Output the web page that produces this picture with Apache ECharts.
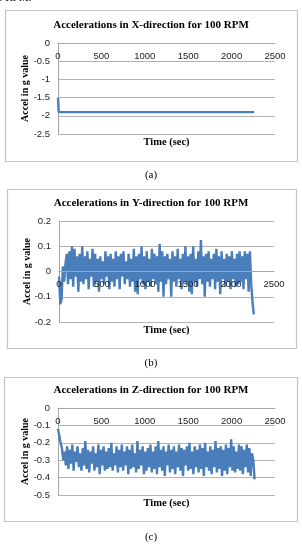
<!DOCTYPE html>
<html>
<head>
<meta charset="utf-8">
<script src="https://cdn.jsdelivr.net/npm/echarts@6/dist/echarts.min.js"></script>
<style>
  html, body { margin: 0; padding: 0; background: #fff; }
  #chartContainer { width: 302px; height: 545px; }
</style>
</head>
<body>
<div id="chartContainer"></div>
<script>
// time ticks shared by the three plots
const timeTicks = [0, 500, 1000, 1500, 2000, 2500];

// X-direction: short spike at start, then flat
const xTimes = [0, 8, 2260];
const xValues = [-1.5, -1.9, -1.9];

// Y and Z were logged every 15 sec
const SAMPLE_STEP = 15;
const yValues = [
  -0.02, -0.13, -0.11, 0.02, -0.04, 0.03, 0.07, -0.05, 0.08, -0.03,
  0.10, -0.06, 0.09, -0.02, 0.06, -0.08, 0.07, -0.04, 0.10, -0.05,
  0.06, -0.03, 0.08, -0.07, 0.05, -0.02, 0.09, -0.06, 0.07, -0.04,
  0.05, -0.08, 0.06, -0.03, 0.04, -0.05, 0.08, -0.02, 0.06, -0.07,
  0.07, -0.04, 0.05, -0.06, 0.08, -0.03, 0.06, -0.07, 0.07, -0.02,
  0.08, -0.05, 0.04, -0.03, 0.07, -0.06, 0.05, -0.04, 0.09, -0.08,
  0.06, -0.09, 0.07, -0.03, 0.10, -0.05, 0.06, -0.07, 0.08, -0.04,
  0.05, -0.06, 0.09, -0.03, 0.07, -0.05, 0.06, -0.08, 0.11, -0.04,
  0.08, -0.10, 0.06, -0.05, 0.07, -0.03, 0.05, -0.10, 0.08, -0.04,
  0.06, -0.06, 0.09, -0.03, 0.05, -0.07, 0.07, -0.04, 0.10, -0.05,
  0.06, -0.08, 0.07, -0.09, 0.10, -0.04, 0.05, -0.06, 0.08, -0.03,
  0.125, -0.05, 0.06, -0.10, 0.07, -0.04, 0.08, -0.06, 0.05, -0.03,
  0.07, -0.07, 0.09, -0.04, 0.06, -0.09, 0.08, -0.03, 0.05, -0.06,
  0.07, -0.04, 0.06, -0.07, 0.08, -0.03, 0.05, -0.06, 0.07, -0.05,
  0.08, -0.04, 0.06, -0.07, 0.08, -0.03, 0.07, -0.08, 0.08, -0.05,
  -0.12, -0.17
];
const zValues = [
  -0.12, -0.16, -0.20, -0.23, -0.30, -0.25, -0.33, -0.22, -0.35, -0.24,
  -0.32, -0.21, -0.36, -0.25, -0.31, -0.22, -0.34, -0.26, -0.36, -0.23,
  -0.33, -0.19, -0.35, -0.24, -0.37, -0.25, -0.32, -0.22, -0.36, -0.26,
  -0.34, -0.21, -0.38, -0.24, -0.33, -0.22, -0.36, -0.25, -0.35, -0.23,
  -0.34, -0.20, -0.36, -0.26, -0.33, -0.22, -0.37, -0.24, -0.34, -0.21,
  -0.36, -0.25, -0.33, -0.22, -0.38, -0.24, -0.35, -0.21, -0.34, -0.26,
  -0.37, -0.19, -0.35, -0.24, -0.33, -0.22, -0.38, -0.25, -0.36, -0.23,
  -0.34, -0.21, -0.37, -0.25, -0.35, -0.22, -0.38, -0.19, -0.34, -0.24,
  -0.36, -0.22, -0.39, -0.25, -0.33, -0.21, -0.37, -0.24, -0.35, -0.22,
  -0.38, -0.25, -0.34, -0.21, -0.36, -0.23, -0.39, -0.24, -0.33, -0.22,
  -0.36, -0.20, -0.35, -0.25, -0.38, -0.22, -0.34, -0.24, -0.37, -0.21,
  -0.35, -0.23, -0.39, -0.20, -0.34, -0.25, -0.36, -0.22, -0.38, -0.24,
  -0.34, -0.19, -0.37, -0.23, -0.35, -0.22, -0.39, -0.24, -0.36, -0.21,
  -0.38, -0.23, -0.34, -0.18, -0.36, -0.22, -0.37, -0.25, -0.35, -0.21,
  -0.36, -0.22, -0.38, -0.24, -0.34, -0.21, -0.37, -0.23, -0.39, -0.26,
  -0.30, -0.41
];

const titles = [
  'Accelerations in X-direction for 100 RPM',
  'Accelerations in Y-direction for 100 RPM',
  'Accelerations in Z-direction for 100 RPM'
];
const captions = ['(a)', '(b)', '(c)'];

const SERIF = '"Liberation Serif", "Times New Roman", serif';
const SANS = '"Liberation Sans", Arial, sans-serif';
const LINE_BLUE = '#4a7ebb';
const AXIS_GRAY = '#a6a6a6';

function sampled(values) {
  return values.map((v, i) => [i * SAMPLE_STEP, v]);
}

// panel layout: box, plot area, text positions
const panels = [
  { box: [5, 10, 292, 151], grid: { left: 58, top: 43, width: 217, height: 91 },
    y: { min: -2.5, max: 0, interval: 0.5 }, titleY: 25, yNameX: 25, xNameY: 142, capY: 175 },
  { box: [7, 189, 289, 159], grid: { left: 59, top: 221, width: 215, height: 101 },
    y: { min: -0.2, max: 0.2, interval: 0.1 }, titleY: 203, yNameX: 27, xNameY: 330, capY: 363 },
  { box: [4, 377, 293, 144], grid: { left: 58, top: 408, width: 217, height: 87 },
    y: { min: -0.5, max: 0, interval: 0.1 }, titleY: 390, yNameX: 25, xNameY: 503, capY: 537 }
];

// pixel row where g = 0 sits in each plot (time axis crosses there, Excel style)
function zeroRow(p) {
  return p.grid.top + p.grid.height * p.y.max / (p.y.max - p.y.min);
}

const seriesData = [
  xTimes.map((t, i) => [t, xValues[i]]),
  sampled(yValues),
  sampled(zValues)
];

const graphics = [];
panels.forEach((p, i) => {
  const [bx, by, bw, bh] = p.box;
  graphics.push({
    type: 'rect', silent: true, z: -1,
    shape: { x: bx + 0.5, y: by + 0.5, width: bw, height: bh },
    style: { fill: '#fff', stroke: '#c4c4c4', lineWidth: 1.2 }
  });
  graphics.push({
    type: 'text', x: 151, y: p.titleY,
    style: { text: titles[i], font: 'bold 11px ' + SERIF, fill: '#000', align: 'center', verticalAlign: 'middle' }
  });
  graphics.push({
    type: 'text', x: p.yNameX, y: p.grid.top + p.grid.height / 2, rotation: Math.PI / 2,
    style: { text: 'Accel in g value', font: 'bold 10px ' + SERIF, fill: '#000', align: 'center', verticalAlign: 'middle' }
  });
  graphics.push({
    type: 'text', x: p.grid.left + p.grid.width / 2, y: p.xNameY,
    style: { text: 'Time (sec)', font: 'bold 10.5px ' + SERIF, fill: '#000', align: 'center', verticalAlign: 'middle' }
  });
  graphics.push({
    type: 'text', x: 151, y: p.capY,
    style: { text: captions[i], font: '11px ' + SERIF, fill: '#000', align: 'center', verticalAlign: 'middle' }
  });
});
// clipped line of document text above the first figure
graphics.push({
  type: 'text', x: -3, y: -7,
  style: { text: '0 RPM.', font: '11px ' + SERIF, fill: '#000' }
});

// main plot grids (0..2) + thin grids that hold the time axis at g = 0 (3..5)
const grids = panels.map(p => p.grid).concat(panels.map(p => ({
  left: p.grid.left, width: p.grid.width, top: zeroRow(p) - 1, height: 1
})));

const labelStyle = { color: '#222', fontFamily: SANS, fontSize: 9.5, margin: 8, formatter: v => String(v) };

const xAxes = panels.map((p, i) => ({
  type: 'value', gridIndex: i, min: timeTicks[0], max: timeTicks[timeTicks.length - 1], interval: 500,
  show: false
})).concat(panels.map((p, i) => ({
  type: 'value', gridIndex: 3 + i, min: timeTicks[0], max: timeTicks[timeTicks.length - 1], interval: 500,
  position: 'bottom', z: 10,
  axisLine: { show: true, onZero: false, lineStyle: { color: AXIS_GRAY, width: 1 } },
  axisTick: { show: false },
  axisLabel: labelStyle,
  splitLine: { show: false }
})));

const yAxes = panels.map((p, i) => ({
  type: 'value', gridIndex: i, min: p.y.min, max: p.y.max, interval: p.y.interval,
  axisLine: { show: true, onZero: false, lineStyle: { color: AXIS_GRAY, width: 1 } },
  axisTick: { show: false },
  axisLabel: labelStyle,
  splitLine: { show: true, lineStyle: { color: '#b3b3b3', width: 1 } }
})).concat(panels.map((p, i) => ({
  type: 'value', gridIndex: 3 + i, min: 0, max: 1, show: false
})));

const option = {
  animation: false,
  backgroundColor: '#fff',
  graphic: graphics,
  grid: grids,
  xAxis: xAxes,
  yAxis: yAxes,
  series: seriesData.map((d, i) => ({
    type: 'line', xAxisIndex: i, yAxisIndex: i, data: d,
    showSymbol: false, symbol: 'none',
    lineStyle: { color: LINE_BLUE, width: 2.4 },
    z: 3
  }))
};

const myChart = echarts.init(document.getElementById('chartContainer'));
myChart.setOption(option);
</script>
</body>
</html>
